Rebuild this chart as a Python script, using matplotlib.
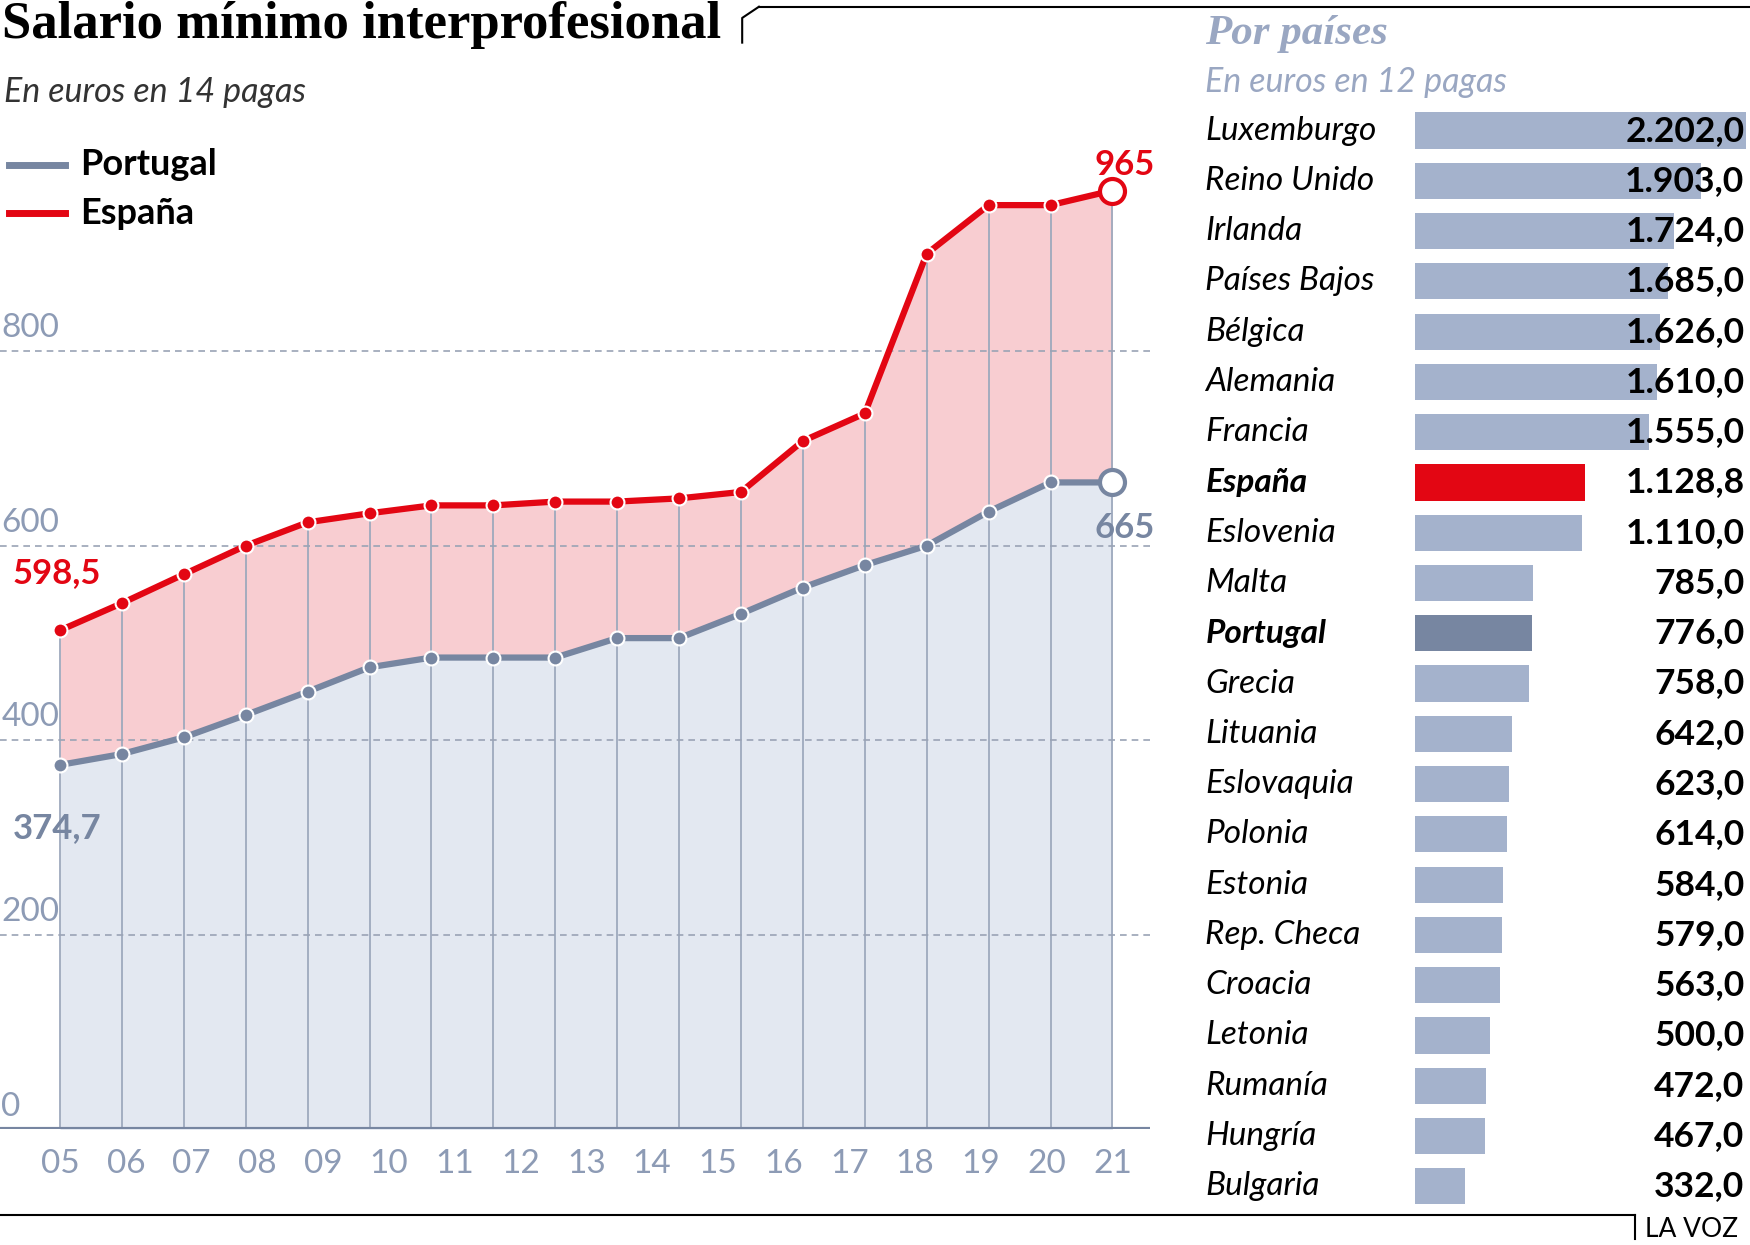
import numpy as np
import matplotlib
matplotlib.use('Agg')
import matplotlib.pyplot as plt
from matplotlib.lines import Line2D

plt.rcParams['font.family'] = ['Lato', 'DejaVu Sans']

years = ['05', '06', '07', '08', '09', '10', '11', '12', '13', '14', '15', '16', '17', '18', '19', '20', '21']
espana = [513, 540.9, 570.6, 600, 624, 633.3, 641.4, 641.4, 645.3, 645.3, 648.6, 655.2, 707.6, 735.9, 900, 950, 950, 965]
portugal = [374.7, 385.9, 403, 426, 450, 475, 485, 485, 485, 505, 505, 530, 557, 580, 600, 635, 665, 665]

paises = ['Luxemburgo', 'Reino Unido', 'Irlanda', 'Países Bajos', 'Bélgica', 'Alemania', 'Francia',
          'España', 'Eslovenia', 'Malta', 'Portugal', 'Grecia', 'Lituania', 'Eslovaquia', 'Polonia',
          'Estonia', 'Rep. Checa', 'Croacia', 'Letonia', 'Rumanía', 'Hungría', 'Bulgaria']
salarios = [2202.0, 1903.0, 1724.0, 1685.0, 1626.0, 1610.0, 1555.0, 1128.8, 1110.0, 785.0, 776.0,
            758.0, 642.0, 623.0, 614.0, 584.0, 579.0, 563.0, 500.0, 472.0, 467.0, 332.0]

RED = '#e30613'
BLUE = '#7786a1'
GRID = '#8d9bb5'

W, H = 1568, 1110
fig = plt.figure(figsize=(17.5, 12.45), dpi=100)

def fx(p): return p / W
def fy(p): return 1 - p / H

# left chart
ax = fig.add_axes([fx(0), fy(1007), fx(1030), (1007 - 100) / H])
x = np.arange(len(espana))
ax.set_xlim(-0.97, 17.6)
ax.set_ylim(0, 907 / 0.8675)
ax.fill_between(x, 0, portugal, color='#e3e8f1', lw=0)
ax.fill_between(x, portugal, espana, color='#f8cdd1', lw=0)
for xi, e in zip(x, espana):
    ax.plot([xi, xi], [0, e], color='#9ea9bd', lw=1.3, zorder=1)
for v in [200, 400, 600, 800]:
    ax.axhline(v, color='#9aa3b5', lw=1.2, ls=(0, (4, 3)), zorder=2)
    ax.text(-0.95, v + 8, str(v), color=GRID, fontsize=24, va='bottom', ha='left')
ax.text(-0.95, 8, '0', color=GRID, fontsize=24, va='bottom', ha='left')
ax.plot(x, portugal, color=BLUE, lw=4.5, zorder=3)
ax.plot(x[:-1], portugal[:-1], 'o', color=BLUE, ms=10, mec='white', mew=1.5, zorder=4)
ax.plot(x[-1], portugal[-1], 'o', color='white', ms=18, mec=BLUE, mew=3, zorder=4)
ax.plot(x, espana, color=RED, lw=4.5, zorder=3)
ax.plot(x[:-1], espana[:-1], 'o', color=RED, ms=10, mec='white', mew=1.5, zorder=4)
ax.plot(x[-1], espana[-1], 'o', color='white', ms=18, mec=RED, mew=3, zorder=4)
ax.axhline(0, color=BLUE, lw=3, zorder=5)
ax.text(-0.05, 555, '598,5', color=RED, fontsize=25, fontweight='bold', ha='center', va='bottom')
ax.text(-0.05, 310, '374,7', color=BLUE, fontsize=25, fontweight='bold', ha='center', va='center')
ax.text(17.2, 975, '965', color=RED, fontsize=25, fontweight='bold', ha='center', va='bottom')
ax.text(17.2, 618, '665', color=BLUE, fontsize=25, fontweight='bold', ha='center', va='center')
ax.set_xticks(np.linspace(0, 17, len(years)))
ax.set_xticklabels(years, color=GRID, fontsize=24)
ax.tick_params(length=0, pad=14)
ax.set_yticks([])
for s in ax.spines.values():
    s.set_visible(False)
ax.patch.set_alpha(0)

# legend
fig.add_artist(Line2D([fx(8), fx(58)], [fy(147), fy(147)], color=BLUE, lw=5))
fig.add_artist(Line2D([fx(8), fx(58)], [fy(190), fy(190)], color=RED, lw=5))
fig.text(fx(72), fy(147), 'Portugal', fontsize=26, fontweight='bold', va='center')
fig.text(fx(72), fy(190), 'España', fontsize=26, fontweight='bold', va='center')

# titles
fig.text(fx(2), fy(22), 'Salario mínimo interprofesional', family=['Liberation Serif'],
         fontsize=38, fontweight='bold', va='center')
fig.text(fx(4), fy(82), 'En euros en 14 pagas', fontsize=24.5, style='italic', color='#333333', va='center')
fig.text(fx(1080), fy(30), 'Por países', family=['Liberation Serif'], fontsize=31,
         fontweight='bold', style='italic', color='#9aa7c2', va='center')
fig.text(fx(1080), fy(73), 'En euros en 12 pagas', fontsize=24.5, style='italic', color='#9aa7c2', va='center')

# frame lines
fig.add_artist(Line2D([fx(665), fx(665), fx(680)], [fy(38), fy(16), fy(6)], color='black', lw=1.5))
fig.add_artist(Line2D([fx(680), fx(1568)], [fy(6), fy(6)], color='black', lw=1.5))
fig.add_artist(Line2D([fx(0), fx(1465)], [fy(1083), fy(1083)], color='black', lw=1.5))
fig.add_artist(Line2D([fx(1465), fx(1465)], [fy(1083), fy(1105)], color='black', lw=1.5))
fig.text(fx(1474), fy(1096), 'LA VOZ', fontsize=19, va='center')

# right bars
bx = fig.add_axes([fx(1268), fy(1080), fx(300), (1080 - 94) / H])
y = np.arange(len(paises))
colors = [RED if p == 'España' else BLUE if p == 'Portugal' else '#a4b2cc' for p in paises]
bx.barh(y, salarios, height=0.72, color=colors)
bx.set_xlim(0, 300 / 0.1347)
bx.set_ylim(len(paises) - 0.5, -0.5)
bx.axis('off')
for yi, p, v in zip(y, paises, salarios):
    hl = p in ('España', 'Portugal')
    bx.text(-188 / 0.1347, yi, p, fontsize=24, style='italic', fontweight='bold' if hl else 'normal',
            va='center', ha='left')
    s = f'{v:,.1f}'.replace(',', 'X').replace('.', ',').replace('X', '.')
    bx.text(295 / 0.1347, yi, s, fontsize=25.5, fontweight='bold', va='center', ha='right')

fig.savefig('out.png', dpi=100)
